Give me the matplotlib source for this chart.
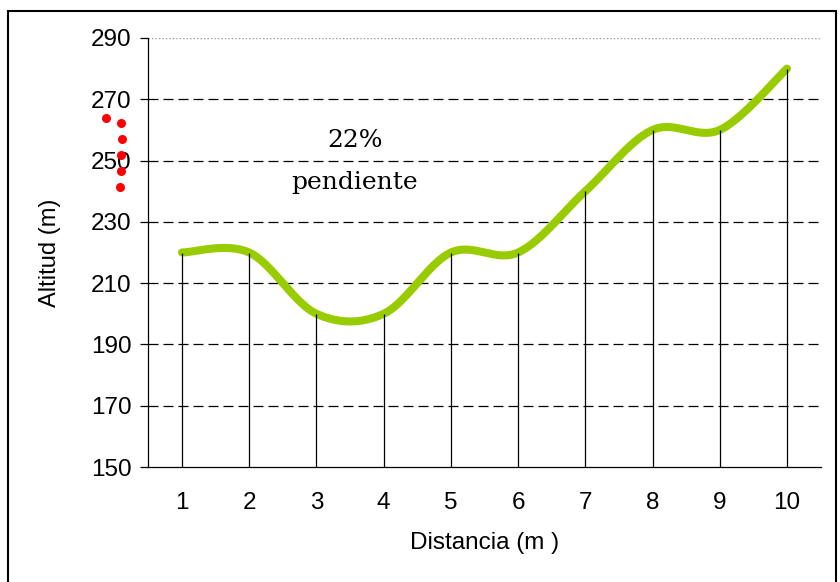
import matplotlib.pyplot as plt
import numpy as np
from matplotlib.patches import Rectangle

# Datos
distancia = [1, 2, 3, 4, 5, 6, 7, 8, 9, 10]
altitud = [220, 220, 200, 200, 220, 220, 240, 260, 260, 280]
y_ticks = [150, 170, 190, 210, 230, 250, 270, 290]
# puntos rojos de la marca de pendiente (coordenadas de datos)
dots_x = [-0.13, 0.09, 0.10, 0.09, 0.09, 0.08]
dots_y = [264, 262.3, 257, 251.8, 246.6, 241.4]


def smooth_curve(x, y, n=40):
    # curva suavizada tipo Excel (Bezier / Catmull-Rom)
    p = np.column_stack([x, y]).astype(float)
    p = np.vstack([p[0], p, p[-1]])
    out = []
    for i in range(1, len(p) - 2):
        p0, p1, p2, p3 = p[i - 1], p[i], p[i + 1], p[i + 2]
        c1 = p1 + (p2 - p0) / 6
        c2 = p2 - (p3 - p1) / 6
        t = np.linspace(0, 1, n)[:, None]
        seg = ((1 - t) ** 3) * p1 + 3 * ((1 - t) ** 2) * t * c1 + 3 * (1 - t) * t ** 2 * c2 + t ** 3 * p2
        out.append(seg)
    s = np.vstack(out)
    return s[:, 0], s[:, 1]


fig = plt.figure(figsize=(8.4, 5.82), dpi=100)
ax = fig.add_axes([148.4 / 840, 1 - 467 / 582, 672.2 / 840, 429 / 582])

# marco alrededor del grafico
fig.patches.append(Rectangle((8 / 840, -0.1), 828 / 840, 1.1 - 11 / 582,
                             transform=fig.transFigure, fill=False,
                             edgecolor='black', linewidth=1.5))

# titulo (cortado en la parte superior)
fig.text(95 / 840, 1.0 + 6 / 582, 'Figura 2. Perfil topográfico del terreno', ha='left',
         va='baseline', fontsize=17, fontweight='bold', family='DejaVu Serif',
         transform=fig.transFigure)

# lineas de cuadricula
for v in y_ticks[1:-1]:
    ax.axhline(v, color='black', linewidth=0.9, linestyle=(0, (8, 4)), zorder=1)
ax.axhline(290, color='#999999', linewidth=1, linestyle=(0, (1, 1.5)), zorder=1)

sx, sy = smooth_curve(distancia, altitud)
ax.plot(sx, sy, color='#99cc00', linewidth=5.8, solid_capstyle='round', zorder=3)
ax.vlines(distancia, 150, altitud, color='black', linewidth=0.9, zorder=4)

ax.scatter(dots_x, dots_y, s=30, color='red', clip_on=False, zorder=5)

ax.text(3.57, 256.7, '22%', ha='center', va='center', fontsize=18,
        family='DejaVu Serif')
ax.text(3.57, 243.0, 'pendiente', ha='center', va='center', fontsize=18,
        family='DejaVu Serif')

ax.set_xlim(0.5, 10.5)
ax.set_ylim(150, 290)
ax.set_yticks(y_ticks)
ax.set_xticks(distancia)
for sp in ['top', 'right']:
    ax.spines[sp].set_visible(False)
ax.spines['left'].set_linewidth(0.9)
ax.spines['bottom'].set_linewidth(0.9)
ax.tick_params(axis='y', length=6, width=0.9, labelsize=17.5, pad=6)
ax.tick_params(axis='x', length=0, labelsize=17.5, pad=18)
for lbl in ax.get_xticklabels() + ax.get_yticklabels():
    lbl.set_family('Liberation Sans')

ax.set_xlabel('Distancia (m )', fontsize=17.5, family='Liberation Sans', labelpad=13)
ax.set_ylabel('Altitud (m)', fontsize=17, family='Liberation Sans', labelpad=22)

fig.savefig('out.png', dpi=100)
